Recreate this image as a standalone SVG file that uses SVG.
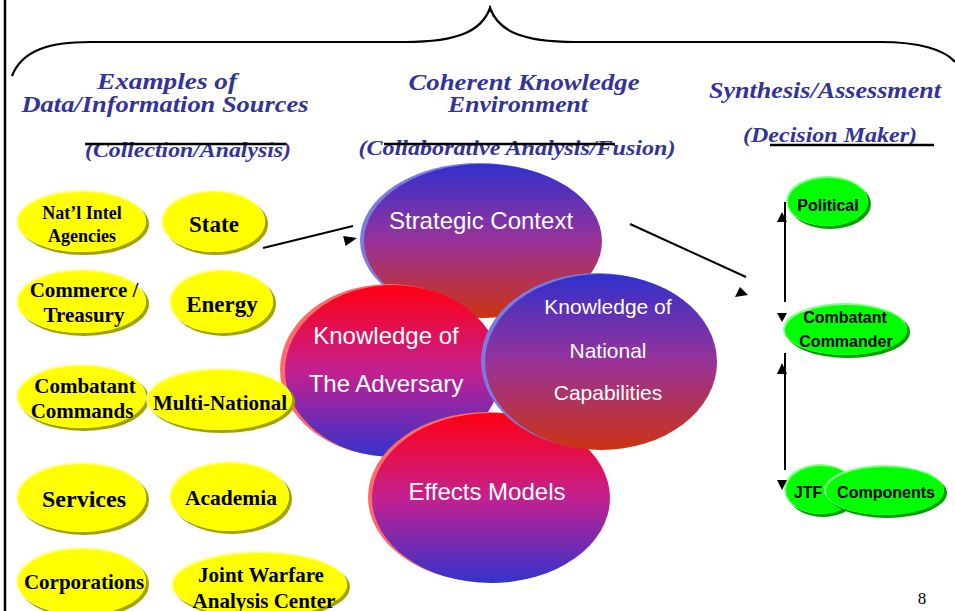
<svg xmlns="http://www.w3.org/2000/svg" width="955" height="611" viewBox="0 0 955 611">
<defs>
<linearGradient id="gBR" x1="0" y1="0" x2="0" y2="1">
<stop offset="0" stop-color="#3030CC"/>
<stop offset="0.5" stop-color="#993399"/>
<stop offset="1" stop-color="#CC3311"/>
</linearGradient>
<linearGradient id="gRB" x1="0" y1="0" x2="0" y2="1">
<stop offset="0" stop-color="#FF0011"/>
<stop offset="0.5" stop-color="#C42090"/>
<stop offset="1" stop-color="#3333CC"/>
</linearGradient>
<style>
.hd{font-family:"Liberation Serif","Times New Roman",serif;font-weight:bold;font-style:italic;fill:#333399;text-anchor:middle}
.yl{fill:#FFFF00}
.ysh{fill:#A3A300}
.yhi{fill:#FFFF99}
.yt{font-family:"Liberation Serif","Times New Roman",serif;font-weight:bold;fill:#000;text-anchor:middle}
.gr{fill:#00FF00}
.gsh{fill:#00A000}
.ghi{fill:#88FF88}
.gt{font-family:"Liberation Sans",Arial,sans-serif;font-weight:bold;fill:#000;text-anchor:middle;font-size:16px}
.ct{font-family:"Liberation Sans",Arial,sans-serif;fill:#FFFFFF;text-anchor:middle}
.ln{stroke:#000;stroke-width:2;fill:none}
.ah{fill:#000}
</style>
</defs>
<rect width="955" height="611" fill="#FFFFFF"/>
<g id="frame">
<line x1="5" y1="0" x2="5" y2="611" stroke="#000" stroke-width="2.5"/>
<path d="M12,76 C22,50 50,42 90,42 L405,42 C460,42 482,30 490,8 C498,30 520,42 575,42 L880,42 C920,42 945,50 955,62" fill="none" stroke="#000" stroke-width="2.2"/>
<line x1="490" y1="6" x2="490" y2="12" stroke="#000" stroke-width="2"/>
</g>
<g id="headers">
<text class="hd" x="167" y="89" font-size="23" textLength="140" lengthAdjust="spacingAndGlyphs">Examples of</text>
<text class="hd" x="165" y="112" font-size="23" textLength="287" lengthAdjust="spacingAndGlyphs">Data/Information Sources</text>
<text class="hd" x="188" y="157" font-size="21" textLength="206" lengthAdjust="spacingAndGlyphs">(Collection/Analysis)</text>
<line x1="85" y1="144" x2="286" y2="144" stroke="#000" stroke-width="2.5"/>
<text class="hd" x="524" y="90" font-size="23" textLength="231" lengthAdjust="spacingAndGlyphs">Coherent Knowledge</text>
<text class="hd" x="518" y="112" font-size="23" textLength="140" lengthAdjust="spacingAndGlyphs">Environment</text>
<text class="hd" x="517" y="155" font-size="21" textLength="317" lengthAdjust="spacingAndGlyphs">(Collaborative Analysis/Fusion)</text>
<line x1="384" y1="144" x2="615" y2="144" stroke="#000" stroke-width="2.5"/>
<text class="hd" x="825" y="98" font-size="23" textLength="232" lengthAdjust="spacingAndGlyphs">Synthesis/Assessment</text>
<text class="hd" x="830" y="142" font-size="21" textLength="174" lengthAdjust="spacingAndGlyphs">(Decision Maker)</text>
<line x1="770" y1="145" x2="934" y2="145" stroke="#000" stroke-width="2.5"/>
</g>
<g id="strategic-context">
<ellipse cx="479" cy="240" rx="119" ry="77" fill="#7B7BE0"/>
<ellipse cx="483" cy="241" rx="119" ry="77" fill="url(#gBR)"/>
<text class="ct" x="481" y="229" font-size="24">Strategic Context</text>
</g>
<g id="knowledge-adversary">
<ellipse cx="389" cy="370" rx="109" ry="86" fill="#FF6A6A"/>
<ellipse cx="393" cy="371" rx="108" ry="86" fill="url(#gRB)"/>
<text class="ct" x="386" y="344" font-size="24">Knowledge of</text>
<text class="ct" x="386" y="392" font-size="24">The Adversary</text>
</g>
<g id="effects-models">
<ellipse cx="487" cy="497" rx="119" ry="85" fill="#FF6A6A"/>
<ellipse cx="491" cy="498" rx="119" ry="85" fill="url(#gRB)"/>
<text class="ct" x="487" y="500" font-size="24">Effects Models</text>
</g>
<g id="knowledge-national">
<ellipse cx="597" cy="361" rx="116" ry="88" fill="#7B7BE0"/>
<ellipse cx="601" cy="362" rx="116" ry="88" fill="url(#gBR)"/>
<text class="ct" x="608" y="314" font-size="21">Knowledge of</text>
<text class="ct" x="608" y="358" font-size="21">National</text>
<text class="ct" x="608" y="400" font-size="21">Capabilities</text>
</g>
<g id="natl-intel">
<ellipse class="ysh" cx="84" cy="224" rx="65" ry="31"/>
<ellipse class="yhi" cx="81" cy="221" rx="65" ry="31"/>
<ellipse class="yl" cx="82" cy="222" rx="64" ry="30"/>
<text class="yt" x="82" y="219" font-size="18">Nat’l Intel</text>
<text class="yt" x="82" y="242" font-size="18">Agencies</text>
</g>
<g id="state">
<ellipse class="ysh" cx="216" cy="224" rx="52" ry="31"/>
<ellipse class="yhi" cx="213" cy="221" rx="52" ry="31"/>
<ellipse class="yl" cx="214" cy="222" rx="51" ry="30"/>
<text class="yt" x="214" y="232" font-size="23">State</text>
</g>
<g id="commerce">
<ellipse class="ysh" cx="84" cy="304" rx="65" ry="32"/>
<ellipse class="yhi" cx="81" cy="301" rx="65" ry="32"/>
<ellipse class="yl" cx="82" cy="302" rx="64" ry="31"/>
<text class="yt" x="84" y="297" font-size="21">Commerce /</text>
<text class="yt" x="84" y="322" font-size="21">Treasury</text>
</g>
<g id="energy">
<ellipse class="ysh" cx="224" cy="304" rx="52" ry="32"/>
<ellipse class="yhi" cx="221" cy="301" rx="52" ry="32"/>
<ellipse class="yl" cx="222" cy="302" rx="51" ry="31"/>
<text class="yt" x="222" y="312" font-size="23">Energy</text>
</g>
<g id="combatant-commands">
<ellipse class="ysh" cx="84" cy="399" rx="65" ry="32"/>
<ellipse class="yhi" cx="81" cy="396" rx="65" ry="32"/>
<ellipse class="yl" cx="82" cy="397" rx="64" ry="31"/>
<text class="yt" x="85" y="393" font-size="21">Combatant</text>
<text class="yt" x="82" y="418" font-size="21">Commands</text>
</g>
<g id="multi-national">
<ellipse class="ysh" cx="222" cy="402" rx="73" ry="31"/>
<ellipse class="yhi" cx="219" cy="399" rx="73" ry="31"/>
<ellipse class="yl" cx="220" cy="400" rx="72" ry="30"/>
<text class="yt" x="220" y="410" font-size="21">Multi-National</text>
</g>
<g id="services">
<ellipse class="ysh" cx="84" cy="500" rx="65" ry="35"/>
<ellipse class="yhi" cx="81" cy="497" rx="65" ry="35"/>
<ellipse class="yl" cx="82" cy="498" rx="64" ry="34"/>
<text class="yt" x="84" y="507" font-size="24">Services</text>
</g>
<g id="academia">
<ellipse class="ysh" cx="232" cy="499" rx="60" ry="35"/>
<ellipse class="yhi" cx="229" cy="496" rx="60" ry="35"/>
<ellipse class="yl" cx="230" cy="497" rx="59" ry="34"/>
<text class="yt" x="231" y="505" font-size="21.5">Academia</text>
</g>
<g id="corporations">
<ellipse class="ysh" cx="84" cy="584" rx="65" ry="34"/>
<ellipse class="yhi" cx="81" cy="581" rx="65" ry="34"/>
<ellipse class="yl" cx="82" cy="582" rx="64" ry="33"/>
<text class="yt" x="84" y="589" font-size="21">Corporations</text>
</g>
<g id="jwac">
<ellipse class="ysh" cx="262" cy="587" rx="88" ry="33"/>
<ellipse class="yhi" cx="259" cy="584" rx="88" ry="33"/>
<ellipse class="yl" cx="260" cy="585" rx="87" ry="32"/>
<text class="yt" x="261" y="582" font-size="21">Joint Warfare</text>
<text class="yt" x="264" y="608" font-size="21">Analysis Center</text>
</g>
<g id="political">
<ellipse class="gsh" cx="830" cy="204" rx="41" ry="25"/>
<ellipse class="ghi" cx="827" cy="201" rx="41" ry="25"/>
<ellipse class="gr" cx="828" cy="202" rx="40" ry="24"/>
<text class="gt" x="828" y="211">Political</text>
</g>
<g id="combatant-commander">
<ellipse class="gsh" cx="848" cy="332" rx="62" ry="26"/>
<ellipse class="ghi" cx="845" cy="329" rx="62" ry="26"/>
<ellipse class="gr" cx="846" cy="330" rx="61" ry="25"/>
<text class="gt" x="845" y="323">Combatant</text>
<text class="gt" x="846" y="347">Commander</text>
</g>
<g id="jtf-components">
<ellipse class="gsh" cx="823" cy="492" rx="36" ry="25"/>
<ellipse class="ghi" cx="820" cy="489" rx="36" ry="25"/>
<ellipse class="gr" cx="821" cy="490" rx="35" ry="24"/>
<ellipse class="gsh" cx="887" cy="493" rx="60" ry="25"/>
<ellipse class="ghi" cx="884" cy="490" rx="60" ry="25"/>
<ellipse class="gr" cx="885" cy="491" rx="59" ry="24"/>
<text class="gt" x="808" y="498">JTF</text>
<text class="gt" x="886" y="498">Components</text>
</g>
<g id="connectors">
<line class="ln" x1="263" y1="248" x2="353" y2="226"/>
<polygon class="ah" points="357,238 345.6,246 343.2,236"/>
<line class="ln" x1="630" y1="224" x2="746" y2="277"/>
<polygon class="ah" points="740,287 735,297 748,295"/>
<line class="ln" x1="785" y1="202" x2="785" y2="302"/>
<polygon class="ah" points="782,212 777,222 787,222"/>
<polygon class="ah" points="777,313 787,313 782,322"/>
<line class="ln" x1="785" y1="353" x2="785" y2="470"/>
<polygon class="ah" points="782,363 777,374 787,374"/>
<polygon class="ah" points="777,480 787,480 782,490"/>
</g>
<text x="922" y="604" font-family="Liberation Serif,Times New Roman,serif" font-size="17" text-anchor="middle" fill="#000">8</text>
</svg>
